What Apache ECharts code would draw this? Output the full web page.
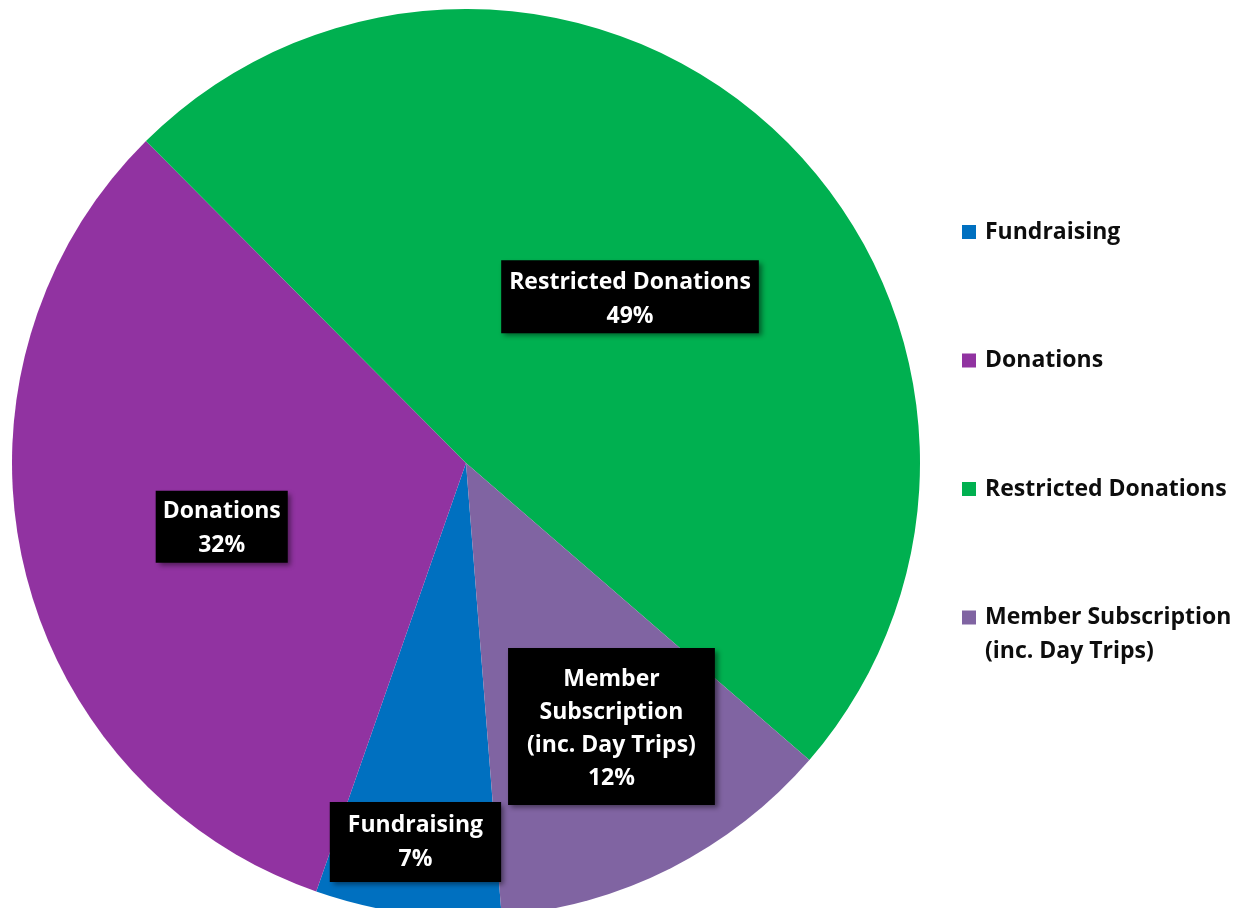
<!DOCTYPE html>
<html>
<head>
<meta charset="utf-8">
<script src="https://cdn.jsdelivr.net/npm/echarts@6/dist/echarts.min.js"></script>
<style>
  html, body { margin: 0; padding: 0; background: #ffffff; }
  #chart { width: 1243px; height: 908px; }
</style>
</head>
<body>
<div id="chart"></div>
<script>
// ---- data ----
const categories = ['Fundraising', 'Donations', 'Restricted Donations', 'Member Subscription (inc. Day Trips)'];
const values = [6.6, 32.2, 48.8, 12.4];
const legendNames = ['Fundraising', 'Donations', 'Restricted Donations', 'Member Subscription\n(inc. Day Trips)'];
const labelNames = ['Fundraising', 'Donations', 'Restricted Donations', 'Member\nSubscription\n(inc. Day Trips)'];

// ---- style / layout ----
const colors = ['#0070C0', '#9133A1', '#00B050', '#8064A2'];
// label box centre: [angle clockwise from 12 o'clock (deg), distance as fraction of radius]
const labelPolar = [[187.6, 0.842], [255.4, 0.556], [44.6, 0.5145], [151.1, 0.663]];
const labelPadding = [[7, 18, 5, 18], [4, 7, 0, 7], [5, 8, 0, 8], [15, 19, 10, 19]];
const labelLineHeight = [34, 34, 34, 33];
const PIE_CX = 466, PIE_CY = 463, PIE_R = 454;
const FONT = '"Open Sans", sans-serif';
const FS = 23;
const LH = 34;

const chart = echarts.init(document.getElementById('chart'), null, { renderer: 'canvas' });

const seriesData = categories.map((c, i) => ({
  name: c,
  value: values[i],
  itemStyle: { color: colors[i] },
  label: { padding: labelPadding[i], lineHeight: labelLineHeight[i] }
}));

const legendData = categories.map((c, i) => ({
  name: c,
  textStyle: { padding: legendNames[i].indexOf('\n') >= 0 ? [0, 0, 0, 4] : [LH, 0, LH, 4] }
}));

chart.setOption({
  backgroundColor: '#ffffff',
  animation: false,
  legend: {
    orient: 'vertical',
    left: 962,
    top: 181,
    padding: 0,
    itemGap: 26.5,
    itemWidth: 14,
    itemHeight: 14,
    icon: 'rect',
    data: legendData,
    formatter: function (name) {
      const t = legendNames[categories.indexOf(name)];
      // keep the first line level with the legend square
      return t.indexOf('\n') >= 0 ? '\n' + t : t;
    },
    textStyle: {
      fontFamily: FONT,
      fontWeight: 'bold',
      fontSize: FS,
      lineHeight: LH,
      color: '#0d0d0d'
    }
  },
  series: [{
    type: 'pie',
    center: [PIE_CX, PIE_CY],
    radius: [0, PIE_R],
    startAngle: -85.5,
    clockwise: true,
    avoidLabelOverlap: false,
    padAngle: 0,
    itemStyle: { borderWidth: 0 },
    emphasis: { disabled: true },
    labelLine: { show: false },
    label: {
      show: true,
      position: 'inside',
      fontFamily: FONT,
      fontWeight: 'bold',
      fontSize: FS,
      lineHeight: LH,
      color: '#ffffff',
      align: 'center',
      verticalAlign: 'middle',
      backgroundColor: '#000000',
      shadowColor: 'rgba(0,0,0,0.45)',
      shadowBlur: 5,
      shadowOffsetX: 3,
      shadowOffsetY: 3,
      formatter: function (p) {
        return labelNames[p.dataIndex] + '\n' + Math.round(p.percent) + '%';
      }
    },
    labelLayout: function (p) {
      const a = labelPolar[p.dataIndex][0] * Math.PI / 180;
      const d = labelPolar[p.dataIndex][1] * PIE_R;
      return {
        x: PIE_CX + Math.sin(a) * d,
        y: PIE_CY - Math.cos(a) * d - p.labelRect.height / 2,
        align: 'center',
        verticalAlign: 'top'
      };
    },
    data: seriesData
  }]
});
</script>
</body>
</html>
